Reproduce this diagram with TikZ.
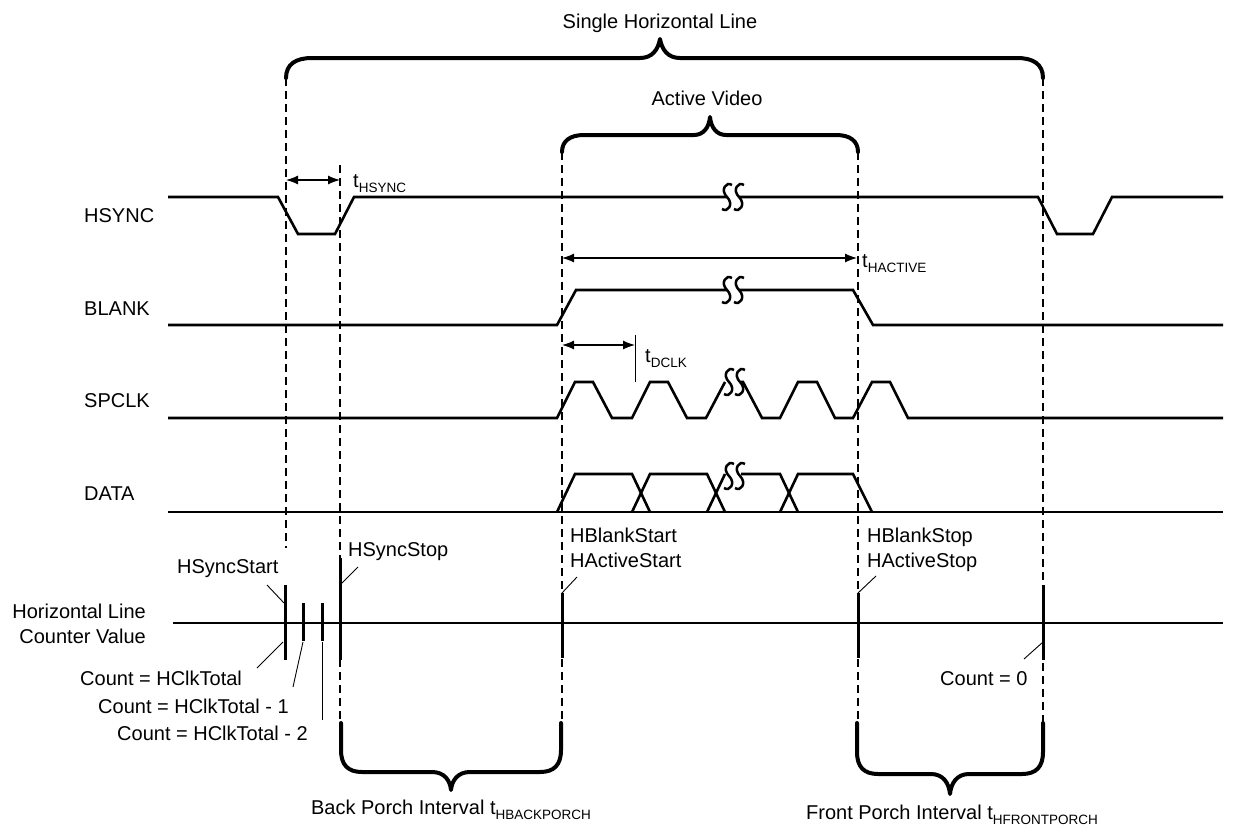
\documentclass[tikz,border=0pt]{standalone}
\usepackage{fontspec}
\setmainfont{Liberation Sans}
\usetikzlibrary{arrows.meta}
\newcommand\tsub[2]{#1\raisebox{-5pt}{\fontsize{13.5}{14}\selectfont #2}}
\begin{document}
\begin{tikzpicture}[x=1pt,y=-1pt,
  sig/.style={line width=2.6pt, line join=miter},
  brc/.style={line width=4pt, line cap=round, line join=round},
  dsh/.style={line width=1.3pt, dash pattern=on 8pt off 5pt},
  tck/.style={line width=3pt},
  ldr/.style={line width=0.9pt},
  dim/.style={line width=1.2pt, {Latex[length=12pt,width=9pt]}-{Latex[length=12pt,width=9pt]}},
  lbl/.style={font=\fontsize{20}{25}\selectfont, inner sep=0pt},
  squig/.pic={\draw[line width=2.5pt] (5,-12) .. controls (-1,-16) and (-7,-7) .. (0,0) .. controls (7,7) and (1,16) .. (-5,12);}
]
\useasboundingbox (0,0) rectangle (1242,833);

% ---------- dashed guides ----------
\draw[dsh] (286,78) -- (286,548);
\draw[dsh] (340,165) -- (340,723);
\draw[dsh] (562,152) -- (562,723);
\draw[dsh] (858,152) -- (858,723);
\draw[dsh] (1043,78) -- (1043,723);

% ---------- braces ----------
\draw[brc] (286,78) .. controls (286,64) and (296,58) .. (312,58) -- (640,58)
  .. controls (652,58) and (658,50) .. (660,39) .. controls (662,50) and (668,58) .. (680,58)
  -- (1017,58) .. controls (1033,58) and (1043,64) .. (1043,78);
\node[lbl, anchor=base] (single) at (660,28) {Single Horizontal Line};

\draw[brc] (562,152) .. controls (562,141) and (570,135) .. (584,135) -- (694,135)
  .. controls (703,135) and (709,128) .. (710,117) .. controls (711,128) and (717,135) .. (726,135)
  -- (836,135) .. controls (850,135) and (858,141) .. (858,152);
\node[lbl, anchor=base] (active) at (707,105) {Active Video};

\draw[brc] (341,723) -- (341,750) .. controls (341,765) and (348,772) .. (362,772) -- (432,772)
  .. controls (444,772) and (450,780) .. (451,790) .. controls (452,780) and (458,772) .. (470,772)
  -- (540,772) .. controls (554,772) and (561,765) .. (561,750) -- (561,723);
\node[lbl, anchor=base] (back) at (451,814) {Back Porch Interval \tsub{t}{HBACKPORCH}};

\draw[brc] (857,723) -- (857,752) .. controls (857,767) and (864,774) .. (878,774) -- (931,774)
  .. controls (943,774) and (949,783) .. (950,794) .. controls (951,783) and (957,774) .. (969,774)
  -- (1022,774) .. controls (1036,774) and (1043,767) .. (1043,752) -- (1043,723);
\node[lbl, anchor=base] (front) at (952,819) {Front Porch Interval \tsub{t}{HFRONTPORCH}};

% ---------- signal names ----------
\node[lbl, anchor=base west] (nhsync) at (84,222) {HSYNC};
\node[lbl, anchor=base west] (nblank) at (84,315) {BLANK};
\node[lbl, anchor=base west] (nspclk) at (84,407) {SPCLK};
\node[lbl, anchor=base west] (ndata) at (84,500) {DATA};

% ---------- HSYNC ----------
\draw[sig] (168,197) -- (278,197) -- (298,234) -- (335,234) -- (354,197) -- (727,197);
\draw[sig] (739,197) -- (1038,197) -- (1057,234) -- (1093,234) -- (1112,197) -- (1223,197);
\pic at (727,197) {squig};
\pic at (739,197) {squig};
\draw[dim] (286,180) -- (340,180);
\node[lbl, anchor=base west] (thsync) at (353,187) {\tsub{t}{HSYNC}};

% ---------- BLANK ----------
\draw[dim] (562,258) -- (857,258);
\node[lbl, anchor=base west] (thactive) at (862,267) {\tsub{t}{HACTIVE}};
\draw[sig] (168,325) -- (557,325) -- (576,290) -- (727,290);
\draw[sig] (739,290) -- (853,290) -- (873,325) -- (1223,325);
\pic at (727,290) {squig};
\pic at (739,290) {squig};

% ---------- SPCLK ----------
\draw[dim] (562,345) -- (635,345);
\draw[ldr] (635,335) -- (635,382);
\node[lbl, anchor=base west] (tdclk) at (645,362) {\tsub{t}{DCLK}};
\draw[sig] (168,418) -- (557,418) -- (575,382) -- (593,382) -- (612,418) -- (632,418) -- (650,382)
  -- (668,382) -- (687,418) -- (706,418) -- (725,382);
\draw[sig] (741,382) -- (743,382) -- (762,418) -- (780,418) -- (798,382) -- (817,382) -- (835,418)
  -- (853,418) -- (872,382) -- (890,382) -- (908,418) -- (1223,418);
\pic at (729,382) {squig};
\pic at (740,382) {squig};

% ---------- DATA ----------
\draw[sig] (168,512) -- (1223,512);
\draw[sig] (557,512) -- (575,474) -- (632,474) -- (650,512);
\draw[sig] (632,512) -- (650,474) -- (707,474) -- (725,512);
\draw[sig] (707,512) -- (725,474);
\draw[sig] (741,474) -- (780,474) -- (798,512);
\draw[sig] (780,512) -- (798,474) -- (853,474) -- (872,512);
\pic at (729,476) {squig};
\pic at (740,476) {squig};

% ---------- counter ----------
\node[lbl, anchor=north east, align=right] (hlc) at (146,604) {Horizontal Line\\Counter Value};
\draw[sig] (173,623) -- (1223,623);
\draw[tck] (285,585) -- (285,660);
\draw[tck] (303,603) -- (303,641);
\draw[tck] (322,603) -- (322,641);
\draw[tck] (340,558) -- (340,660);
\draw[tck] (562,593) -- (562,658);
\draw[tck] (858,593) -- (858,658);
\draw[tck] (1043,585) -- (1043,660);

\node[lbl, anchor=base west] (hss) at (177,573) {HSyncStart};
\draw[ldr] (267,585) -- (284,603);
\node[lbl, anchor=base west] (hsp) at (348,556) {HSyncStop};
\draw[ldr] (358,567) -- (340,585);
\node[lbl, anchor=base west] (c0) at (80,685) {Count = HClkTotal};
\draw[ldr] (257,668) -- (283,642);
\node[lbl, anchor=base west] (c1) at (98,713) {Count = HClkTotal - 1};
\draw[ldr] (293,687) -- (303,642);
\node[lbl, anchor=base west] (c2) at (117,740) {Count = HClkTotal - 2};
\draw[ldr] (322,720) -- (322,642);

\node[lbl, anchor=north west, align=left] (hbs) at (570,528) {HBlankStart\\HActiveStart};
\draw[ldr] (577,577) -- (562,593);
\node[lbl, anchor=north west, align=left] (hbp) at (867,528) {HBlankStop\\HActiveStop};
\draw[ldr] (876,576) -- (858,593);
\node[lbl, anchor=base west] (cz) at (940,685) {Count = 0};
\draw[ldr] (1024,659) -- (1043,642);
\end{tikzpicture}
\end{document}
